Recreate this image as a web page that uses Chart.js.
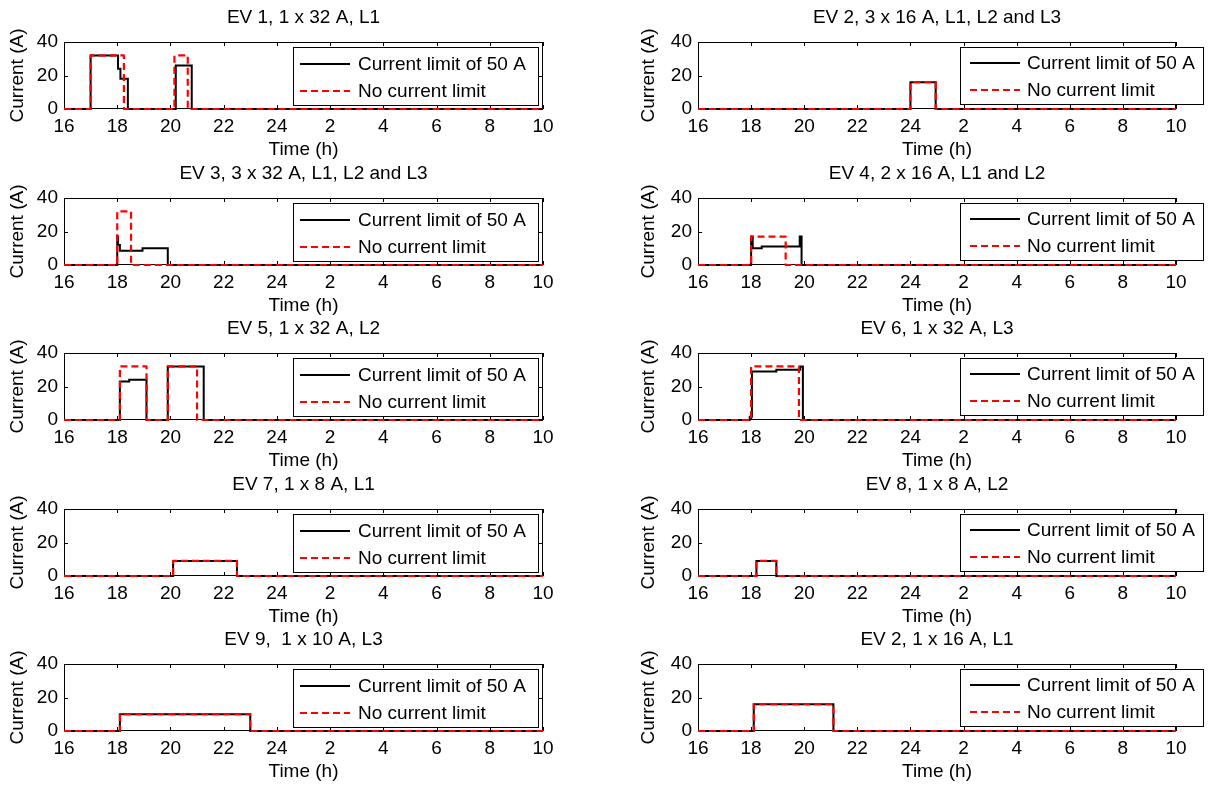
<!DOCTYPE html>
<html>
<head>
<meta charset="utf-8">
<script src="https://cdn.jsdelivr.net/npm/chart.js@4.4.1/dist/chart.umd.min.js"></script>
<style>
  body { margin: 0; background: #fff; }
  #grid { position: relative; width: 1208px; height: 785px; }
  #grid canvas { position: absolute; }
</style>
</head>
<body>
<div id="grid"></div>
<script>
// ===== DATA =====
const hourTicks = [16, 18, 20, 22, 24, 26, 28, 30, 32, 34];
const hourLabels = ['16', '18', '20', '22', '24', '2', '4', '6', '8', '10'];
const ampTicks = [0, 20, 40];
const seriesNames = ['Current limit of 50 A', 'No current limit'];

const panelTitles = [
  'EV 1, 1 x 32 A, L1', 'EV 2, 3 x 16 A, L1, L2 and L3',
  'EV 3, 3 x 32 A, L1, L2 and L3', 'EV 4, 2 x 16 A, L1 and L2',
  'EV 5, 1 x 32 A, L2', 'EV 6, 1 x 32 A, L3',
  'EV 7, 1 x 8 A, L1', 'EV 8, 1 x 8 A, L2',
  'EV 9,  1 x 10 A, L3', 'EV 2, 1 x 16 A, L1'
];

// [time (h, past midnight = 24+), current (A)] - value holds from that time on
const ev1Limited = [[16, 0], [17.0, 32], [18.03, 24], [18.12, 18], [18.4, 0], [20.2, 26], [20.8, 0], [34, 0]];
const ev1Unlimited = [[16, 0], [17.0, 32], [18.25, 0], [20.15, 32], [20.65, 0], [34, 0]];
const ev2Limited = [[16, 0], [24.0, 16], [24.95, 0], [34, 0]];
const ev2Unlimited = [[16, 0], [24.0, 16], [24.95, 0], [34, 0]];
const ev3Limited = [[16, 0], [18.0, 17], [18.03, 12], [18.1, 8.5], [18.95, 10], [19.9, 0], [34, 0]];
const ev3Unlimited = [[16, 0], [18.0, 32], [18.52, 0], [34, 0]];
const ev4Limited = [[16, 0], [18.0, 17], [18.06, 10], [18.4, 11], [19.83, 17], [19.9, 0], [34, 0]];
const ev4Unlimited = [[16, 0], [18.0, 17], [19.3, 0], [34, 0]];
const ev5Limited = [[16, 0], [18.1, 23], [18.45, 24], [19.1, 0], [19.9, 32], [21.25, 0], [34, 0]];
const ev5Unlimited = [[16, 0], [18.1, 32], [19.1, 0], [19.9, 32], [21.0, 0], [34, 0]];
const ev6Limited = [[16, 0], [17.95, 2], [18.03, 29], [18.95, 30], [19.85, 32], [19.95, 0], [34, 0]];
const ev6Unlimited = [[16, 0], [18.0, 32], [19.8, 0], [34, 0]];
const ev7Limited = [[16, 0], [20.1, 9], [22.5, 0], [34, 0]];
const ev7Unlimited = [[16, 0], [20.1, 9], [22.5, 0], [34, 0]];
const ev8Limited = [[16, 0], [18.2, 9], [18.95, 0], [34, 0]];
const ev8Unlimited = [[16, 0], [18.2, 9], [18.95, 0], [34, 0]];
const ev9Limited = [[16, 0], [18.1, 10], [23.0, 0], [34, 0]];
const ev9Unlimited = [[16, 0], [18.1, 10], [23.0, 0], [34, 0]];
const ev10Limited = [[16, 0], [18.1, 16], [21.1, 0], [34, 0]];
const ev10Unlimited = [[16, 0], [18.1, 16], [21.1, 0], [34, 0]];

const limitedSeries = [ev1Limited, ev2Limited, ev3Limited, ev4Limited, ev5Limited,
  ev6Limited, ev7Limited, ev8Limited, ev9Limited, ev10Limited];
const unlimitedSeries = [ev1Unlimited, ev2Unlimited, ev3Unlimited, ev4Unlimited, ev5Unlimited,
  ev6Unlimited, ev7Unlimited, ev8Unlimited, ev9Unlimited, ev10Unlimited];

// ===== LOOK =====
const FONT = 'Liberation Sans, Arial, sans-serif';
const FS = 19;
const rowTops = [0, 156, 311, 467, 622];
const columns = [
  { left: 0, pad: { left: 0, right: 61, top: 0, bottom: 0 }, ytitle: 6,
    legend: { x: 293, dy: 5, w: 245, h: 58, r1: 17, r2: 44, s0: 7, s1: 57, tx: 65 } },
  { left: 604, pad: { left: 30, right: 32, top: 0, bottom: 0 }, ytitle: 3,
    legend: { x: 356, dy: 5, w: 243, h: 57, r1: 16, r2: 43, s0: 10, s1: 60, tx: 67 } }
];

Chart.defaults.color = '#000';
Chart.defaults.font.family = FONT;
Chart.defaults.font.size = FS;

// MATLAB style box with inward ticks, drawn under the lines
const axesBox = {
  id: 'axesBox',
  beforeDatasetsDraw(chart) {
    const { ctx, chartArea: a, scales } = chart;
    ctx.save();
    ctx.strokeStyle = '#000';
    ctx.lineWidth = 1;
    ctx.strokeRect(a.left + 0.5, a.top + 0.5, a.width - 1, a.height - 1);
    ctx.beginPath();
    scales.x.ticks.forEach(t => {
      const px = Math.round(scales.x.getPixelForValue(t.value)) + 0.5;
      ctx.moveTo(px, a.bottom); ctx.lineTo(px, a.bottom - 4);
      ctx.moveTo(px, a.top); ctx.lineTo(px, a.top + 4);
    });
    scales.y.ticks.forEach(t => {
      const py = Math.round(scales.y.getPixelForValue(t.value)) + 0.5;
      ctx.moveTo(a.left, py); ctx.lineTo(a.left + 4, py);
      ctx.moveTo(a.right, py); ctx.lineTo(a.right - 4, py);
    });
    ctx.stroke();
    ctx.restore();
  }
};

// boxed legend sitting over the top right of the axes
const boxLegend = {
  id: 'boxLegend',
  afterDraw(chart, args, o) {
    const { ctx, chartArea: a } = chart;
    const top = a.top + o.dy;
    ctx.save();
    ctx.fillStyle = '#fff';
    ctx.fillRect(o.x, top, o.w, o.h);
    ctx.strokeStyle = '#000';
    ctx.lineWidth = 1;
    ctx.strokeRect(o.x + 0.5, top + 0.5, o.w, o.h);
    const rows = [[o.r1, '#000', []], [o.r2, '#ff0000', [7, 4]]];
    rows.forEach(([dy, col, dash], i) => {
      const y = top + dy;
      ctx.beginPath();
      ctx.setLineDash(dash);
      ctx.strokeStyle = col;
      ctx.lineWidth = 2;
      ctx.moveTo(o.x + o.s0, y);
      ctx.lineTo(o.x + o.s1, y);
      ctx.stroke();
      ctx.setLineDash([]);
      ctx.fillStyle = '#000';
      ctx.font = FS + 'px ' + FONT;
      ctx.textBaseline = 'middle';
      ctx.fillText(seriesNames[i], o.x + o.tx, y + 1);
    });
    ctx.restore();
  }
};

const grid = document.getElementById('grid');

panelTitles.forEach((title, i) => {
  const col = columns[i % 2];
  const canvas = document.createElement('canvas');
  canvas.width = 604;
  canvas.height = 160;
  canvas.style.left = col.left + 'px';
  canvas.style.top = rowTops[Math.floor(i / 2)] + 'px';
  grid.appendChild(canvas);

  const toPoints = arr => arr.map(([t, a]) => ({ x: t, y: a }));

  new Chart(canvas, {
    type: 'line',
    data: {
      datasets: [
        { label: seriesNames[0], data: toPoints(limitedSeries[i]), borderColor: '#000', order: 1,
          borderWidth: 2, stepped: true, pointRadius: 0, fill: false, clip: 3 },
        { label: seriesNames[1], data: toPoints(unlimitedSeries[i]), borderColor: '#ff0000', order: 0,
          borderWidth: 2.2, borderDash: [7, 4], borderJoinStyle: 'round',
          stepped: true, pointRadius: 0, fill: false, clip: 3 }
      ]
    },
    options: {
      responsive: false,
      animation: false,
      events: [],
      layout: { padding: col.pad },
      scales: {
        x: {
          type: 'linear',
          min: hourTicks[0],
          max: hourTicks[hourTicks.length - 1],
          afterBuildTicks: s => { s.ticks = hourTicks.map(v => ({ value: v })); },
          afterFit: s => { s.height = 51; },
          grid: { display: false, drawTicks: false },
          border: { display: false },
          ticks: { autoSkip: false, maxRotation: 0, padding: 6,
            callback: (v, idx) => hourLabels[idx] },
          title: { display: true, text: 'Time (h)', font: { lineHeight: 1 },
            padding: { top: 0, bottom: 0.5 } }
        },
        y: {
          min: ampTicks[0],
          max: ampTicks[ampTicks.length - 1],
          afterBuildTicks: s => { s.ticks = ampTicks.map(v => ({ value: v })); },
          afterFit: s => { s.width = 64; },
          grid: { display: false, drawTicks: false },
          border: { display: false },
          ticks: { padding: 6 },
          title: { display: true, text: 'Current (A)', padding: { top: col.ytitle, bottom: 0 } }
        }
      },
      plugins: {
        legend: { display: false },
        tooltip: { enabled: false },
        title: { display: true, text: title, fullSize: false, color: '#000',
          font: { size: FS, weight: 'normal' }, padding: { top: 6.6, bottom: 12.6 } },
        boxLegend: col.legend
      }
    },
    plugins: [axesBox, boxLegend]
  });
});
</script>
</body>
</html>
